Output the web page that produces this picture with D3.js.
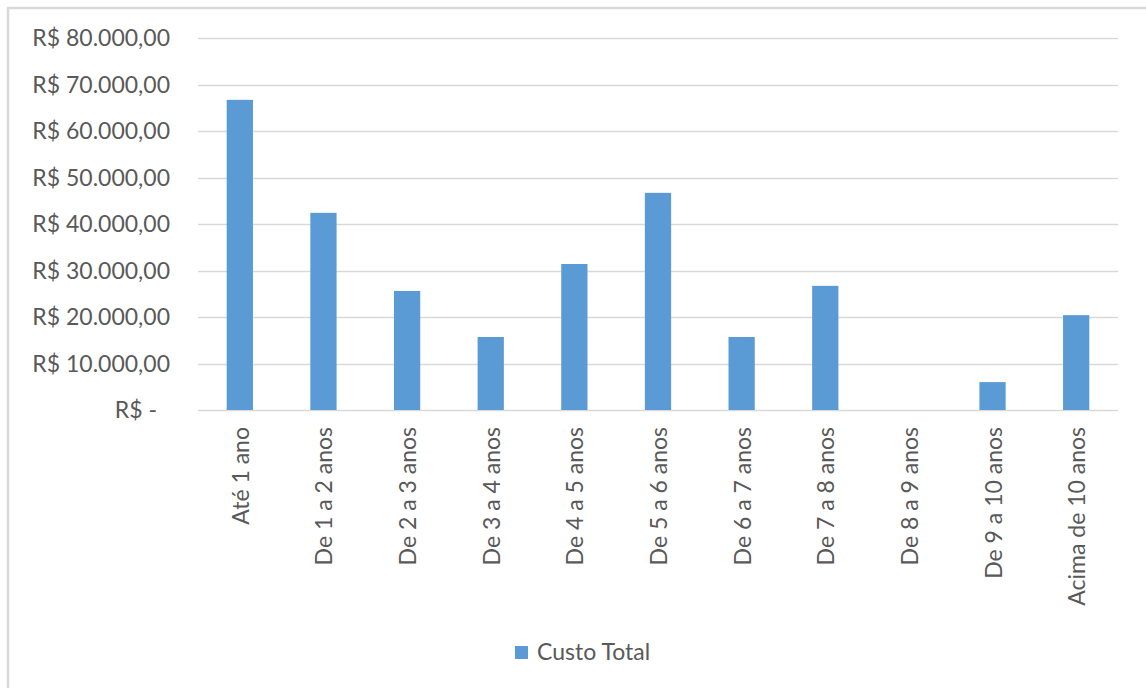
<!DOCTYPE html>
<html>
<head>
<meta charset="utf-8">
<script src="https://cdn.jsdelivr.net/npm/d3@7"></script>
<style>
  body { margin: 0; background: #fff; }
  text { font-family: Lato, "Open Sans", sans-serif; fill: #595959; }
</style>
</head>
<body>
<div id="chart"></div>
<script>
// data
var categories = ['Até 1 ano', 'De 1 a 2 anos', 'De 2 a 3 anos', 'De 3 a 4 anos', 'De 4 a 5 anos',
    'De 5 a 6 anos', 'De 6 a 7 anos', 'De 7 a 8 anos', 'De 8 a 9 anos', 'De 9 a 10 anos', 'Acima de 10 anos'];
var custoTotal = [66700, 42400, 25600, 15700, 31400, 46700, 15700, 26700, 0, 6000, 20400];
var yTicks = [0, 10000, 20000, 30000, 40000, 50000, 60000, 70000, 80000];
var seriesName = 'Custo Total';

var width = 1146,
    height = 688,
    margin = { top: 38, right: 28, bottom: 278, left: 198 },
    barColor = '#5b9bd5',
    gridColor = '#d9d9d9',
    fontSize = '23px';

var svg = d3.select('#chart').append('svg')
    .attr('width', width)
    .attr('height', height);

// outer chart frame
svg.append('rect')
    .attr('x', 8)
    .attr('y', 8)
    .attr('width', width + 10)
    .attr('height', height + 10)
    .attr('fill', 'none')
    .attr('stroke', gridColor)
    .attr('stroke-width', 2.5);

var x = d3.scaleBand()
    .domain(categories)
    .range([margin.left, width - margin.right])
    .paddingInner(0.686)
    .paddingOuter(0.343);

var y = d3.scaleLinear()
    .domain([0, 80000])
    .range([height - margin.bottom, margin.top]);

function fmt(v) {
    if (v === 0) return 'R$ -';
    return 'R$ ' + d3.format(',.2f')(v).replace(/,/g, '#').replace('.', ',').replace(/#/g, '.');
}

// gridlines
svg.append('g')
    .selectAll('line')
    .data(yTicks)
    .enter().append('line')
    .attr('x1', margin.left)
    .attr('x2', width - margin.right)
    .attr('y1', function(d) { return Math.round(y(d)) + 0.5; })
    .attr('y2', function(d) { return Math.round(y(d)) + 0.5; })
    .attr('stroke', gridColor)
    .attr('stroke-width', 1.3);

// y labels
svg.append('g')
    .selectAll('text')
    .data(yTicks)
    .enter().append('text')
    .attr('x', function(d) { return d === 0 ? margin.left - 41 : margin.left - 28; })
    .attr('y', function(d) { return y(d); })
    .attr('dy', '0.35em')
    .attr('text-anchor', 'end')
    .style('font-size', fontSize)
    .text(fmt);

// bars
svg.append('g')
    .selectAll('rect')
    .data(custoTotal)
    .enter().append('rect')
    .attr('x', function(d, i) { return x(categories[i]); })
    .attr('width', x.bandwidth())
    .attr('y', function(d) { return y(d); })
    .attr('height', function(d) { return y(0) - y(d); })
    .attr('fill', barColor);

// x labels, rotated
svg.append('g')
    .selectAll('text')
    .data(categories)
    .enter().append('text')
    .attr('transform', function(d) {
        return 'translate(' + (x(d) + x.bandwidth() / 2 + 9) + ',' + (y(0) + 17) + ') rotate(-90)';
    })
    .attr('text-anchor', 'end')
    .style('font-size', fontSize)
    .text(function(d) { return d; });

// legend
var legend = svg.append('g').attr('transform', 'translate(515,646)');
legend.append('rect')
    .attr('width', 13)
    .attr('height', 13)
    .attr('fill', barColor);
legend.append('text')
    .attr('x', 22)
    .attr('y', 14)
    .style('font-size', fontSize)
    .text(seriesName);
</script>
</body>
</html>
